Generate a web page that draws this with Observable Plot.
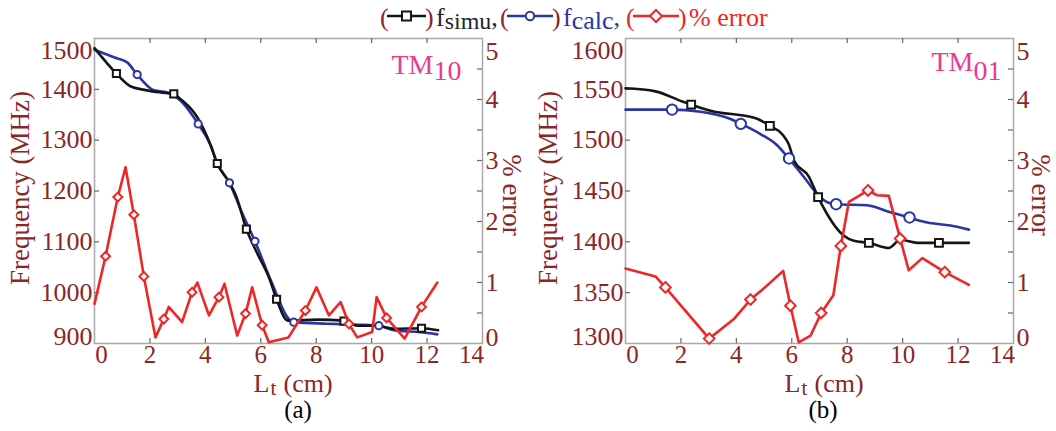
<!DOCTYPE html>
<html>
<head>
<meta charset="utf-8">
<script src="https://cdn.jsdelivr.net/npm/d3@7"></script>
<script src="https://cdn.jsdelivr.net/npm/@observablehq/plot@0.6"></script>
<style>
  body { margin: 0; background: #fff; }
  #root { position: relative; width: 1056px; height: 431px; overflow: hidden; background: #fff;
          font-family: "Liberation Serif", "Times New Roman", serif; }
  .panel { position: absolute; top: 30px; width: 528px; height: 370px; }
  .cap { position: absolute; top: 399px; width: 100px; text-align: center; font-size: 25px;
         line-height: 22px; color: #000; }
  #legend { position: absolute; left: 0; top: 0; }
</style>
</head>
<body>
<div id="root">
  <div id="legend"></div>
  <div class="panel" id="pa" style="left:0px"></div>
  <div class="panel" id="pb" style="left:528px"></div>
  <div class="cap" style="left:248px">(a)</div>
  <div class="cap" style="left:773px">(b)</div>
</div>
<script>
// ---------------- data ----------------
// Panel (a) TM10
const aSimuX = [0, 0.79, 1.30, 1.90, 2.38, 2.86, 3.10, 3.71, 4.19, 4.43, 4.87, 5.11, 5.48, 5.84, 6.33, 6.57, 6.98, 8.05, 9.00, 9.48, 10.2, 10.8, 11.8, 12.4];
const aSimuF = [1481, 1431, 1406, 1398, 1394, 1391, 1381, 1345, 1290, 1254, 1216, 1190, 1125, 1081, 1025, 987, 945, 947, 945, 935, 935, 929, 930, 926];
const aSimuMarkX = [0.79, 2.86, 4.43, 5.48, 6.57, 9.00, 11.8];
const aSimuMarkF = [1431, 1391, 1254, 1125, 987, 944, 930];

const aCalcX = [0, 0.70, 1.18, 1.54, 2.14, 2.62, 3.10, 3.74, 4.19, 4.43, 4.87, 5.30, 5.79, 6.41, 7.00, 7.19, 8.40, 9.50, 10.26, 10.80, 11.76, 12.37];
const aCalcF = [1478, 1463, 1453, 1429, 1398, 1394, 1378, 1332, 1290, 1254, 1216, 1160, 1101, 1018, 949, 942, 939, 937, 935, 926, 922, 918];
const aCalcMarkX = [1.54, 3.74, 4.87, 5.79, 7.19, 10.26];
const aCalcMarkF = [1429, 1332, 1216, 1101, 942, 935];

const aErrX = [0, 0.40, 0.84, 1.12, 1.42, 1.78, 2.20, 2.50, 2.68, 3.16, 3.52, 3.71, 4.13, 4.49, 4.69, 5.15, 5.45, 5.69, 6.05, 6.29, 7.00, 7.61, 8.01, 8.46, 8.88, 9.18, 9.48, 10.02, 10.18, 10.54, 11.19, 11.80, 12.37];
const aErrE = [0.65, 1.43, 2.40, 2.89, 2.11, 1.10, 0.10, 0.40, 0.60, 0.35, 0.84, 1.00, 0.46, 0.76, 0.98, 0.13, 0.49, 0.92, 0.30, 0.02, 0.10, 0.54, 0.92, 0.46, 0.68, 0.32, 0.10, 0.19, 0.76, 0.42, 0.08, 0.60, 1.00];
const aErrMarkX = [0.40, 0.84, 1.42, 1.78, 2.50, 3.52, 4.49, 5.45, 6.05, 7.61, 9.18, 10.54, 11.80];
const aErrMarkE = [1.43, 2.40, 2.11, 1.10, 0.40, 0.84, 0.76, 0.49, 0.30, 0.54, 0.32, 0.42, 0.60];

// Panel (b) TM01
const bSimuX = [0, 1.08, 2.05, 2.37, 3.07, 4.75, 5.21, 5.65, 5.89, 6.08, 6.62, 6.95, 7.88, 8.24, 8.78, 9.50, 9.92, 10.53, 11.31, 12.39];
const bSimuF = [1551, 1548, 1538, 1535, 1529, 1521, 1514, 1506, 1496, 1480, 1464, 1444, 1406, 1401, 1399, 1394, 1402, 1399, 1399, 1399];
const bSimuMarkX = [2.37, 5.21, 6.95, 8.78, 11.31];
const bSimuMarkF = [1535, 1514, 1444, 1399, 1399];

const bCalcX = [0, 1.66, 2.71, 3.67, 4.17, 4.87, 5.47, 5.89, 6.43, 6.92, 7.28, 7.64, 8.72, 9.56, 10.22, 10.89, 11.73, 12.39];
const bCalcF = [1530, 1530, 1528, 1522, 1516, 1506, 1495, 1482, 1464, 1447, 1439, 1437, 1436, 1429, 1424, 1419, 1416, 1412];
const bCalcMarkX = [1.68, 4.16, 5.90, 7.60, 10.25];
const bCalcMarkF = [1530, 1516, 1482, 1437, 1424];

const bErrX = [0, 1.08, 1.44, 3.02, 3.91, 4.51, 5.11, 5.69, 5.95, 6.25, 6.68, 7.06, 7.50, 7.77, 8.06, 8.75, 9.08, 9.50, 9.91, 10.22, 10.71, 11.52, 12.39];
const bErrE = [1.23, 1.10, 0.92, 0.08, 0.40, 0.72, 0.95, 1.19, 0.62, 0.02, 0.13, 0.50, 0.79, 1.60, 2.32, 2.51, 2.43, 2.42, 1.72, 1.20, 1.40, 1.17, 0.96];
const bErrMarkX = [1.44, 3.02, 4.51, 5.95, 7.06, 7.77, 8.75, 9.91, 11.52];
const bErrMarkE = [0.92, 0.08, 0.72, 0.62, 0.50, 1.60, 2.51, 1.72, 1.17];

// axes / ticks
const xDomain = [0, 14];
const xTickLabels = [0, 2, 4, 6, 8, 10, 12, 14];
const aFreqDomain = [900, 1500];
const aFreqLabels = [900, 1000, 1100, 1200, 1300, 1400, 1500];
const bFreqDomain = [1300, 1600];
const bFreqLabels = [1300, 1350, 1400, 1450, 1500, 1550, 1600];
const errDomain = [0, 5];
const errLabels = [0, 1, 2, 3, 4, 5];
const errMinorTicks = [0.5, 1, 1.5, 2, 2.5, 3, 3.5, 4, 4.5];

const FONT = '"Liberation Serif", "Times New Roman", serif';
const MAROON = "#8b2626";
const BLUE = "#2a35a4";
const RED = "#ef2626";
const BLACK = "#151515";
const PINK = "#ec3a8e";
const FRAME = "#a9a9a9";
const TICKC = "#666";

function pts(xs, ys, f = v => v) { return xs.map((x, i) => ({x, y: f(ys[i])})); }
const plain = d => String(d);

function makePanel(cfg) {
  const W = 528, H = 370, mt = 8, mb = 57;
  const fw = W - cfg.ml - cfg.mr, fh = H - mt - mb;
  const errY = d3.scaleLinear(errDomain, cfg.yDomain);
  const yl = cfg.yLabels;
  const yInner = yl.slice(1, -1);
  const xInner = xTickLabels.slice(1, -1);
  const tickOpts = {tickSize: 0, label: null, tickFormat: plain};
  const xOpts = {...tickOpts, anchor: "bottom", tickPadding: 1.5, fontSize: 25};
  const yOpts = {...tickOpts, anchor: "left", tickPadding: 2};
  const eOpts = {y: d => errY(d), text: plain, frameAnchor: "right", textAnchor: "start", dx: 3};
  return Plot.plot({
    width: W, height: H, marginTop: mt, marginBottom: mb, marginLeft: cfg.ml, marginRight: cfg.mr,
    x: {domain: xDomain, axis: null},
    y: {domain: cfg.yDomain, axis: null},
    style: {fontFamily: FONT, fontSize: "26px", color: MAROON, background: "transparent", overflow: "visible"},
    marks: [
      Plot.frame({stroke: FRAME, strokeWidth: 1.5}),
      // inward tick marks
      Plot.tickX(xInner, {x: d => d, stroke: TICKC, strokeWidth: 1.2, insetBottom: fh - 5}),
      Plot.tickX(xInner, {x: d => d, stroke: TICKC, strokeWidth: 1.2, insetTop: fh - 5}),
      Plot.tickY(yInner, {y: d => d, stroke: TICKC, strokeWidth: 1.2, insetRight: fw - 5}),
      Plot.tickY(errMinorTicks, {y: d => errY(d), stroke: TICKC, strokeWidth: 1.2, insetLeft: fw - 5}),
      // x tick labels
      Plot.axisX(xInner, xOpts),
      Plot.axisX([xTickLabels[0]], {...xOpts, dx: 7}),
      Plot.axisX([xTickLabels[xTickLabels.length - 1]], {...xOpts, dx: -11}),
      // left tick labels
      Plot.axisY(yInner, yOpts),
      Plot.axisY([yl[yl.length - 1]], {...yOpts, dy: 12}),
      Plot.axisY([yl[0]], {...yOpts, dy: -7}),
      // right tick labels (% error)
      Plot.text(errLabels.slice(1, -1), eOpts),
      Plot.text([errLabels[errLabels.length - 1]], {...eOpts, dy: 13}),
      Plot.text([errLabels[0]], {...eOpts, dy: -6}),
      // axis titles
      Plot.text(["Frequency (MHz)"], {text: d => d, frameAnchor: "left", rotate: -90, lineAnchor: "bottom", textAnchor: "middle", dx: cfg.ylabDx, dy: -3, fontSize: 27}),
      Plot.text(["% error"], {text: d => d, frameAnchor: "right", rotate: 90, lineAnchor: "bottom", textAnchor: "middle", dx: cfg.elabDx, dy: 4, fontSize: 27}),
      Plot.text(["L"], {text: d => d, frameAnchor: "bottom", textAnchor: "end", lineAnchor: "bottom", dx: -19, dy: 48, fontSize: 26}),
      Plot.text(["t"], {text: d => d, frameAnchor: "bottom", textAnchor: "start", lineAnchor: "bottom", dx: -18, dy: 51, fontSize: 21}),
      Plot.text(["(cm)"], {text: d => d, frameAnchor: "bottom", textAnchor: "start", lineAnchor: "bottom", dx: -5, dy: 48, fontSize: 26}),
      // mode label
      Plot.text(["TM"], {text: d => d, frameAnchor: "top-right", textAnchor: "end", lineAnchor: "bottom", dx: cfg.tmDx, dy: cfg.tmDy, fontSize: 28, fill: PINK}),
      Plot.text([cfg.mode], {text: d => d, frameAnchor: "top-right", textAnchor: "start", lineAnchor: "bottom", dx: cfg.tmDx, dy: 41, fontSize: 28, fill: PINK}),
      // data
      Plot.line(pts(cfg.calcX, cfg.calcF), {x: "x", y: "y", stroke: BLUE, strokeWidth: 2.6, curve: "monotone-x"}),
      Plot.line(pts(cfg.simuX, cfg.simuF), {x: "x", y: "y", stroke: BLACK, strokeWidth: 2.6, curve: "monotone-x"}),
      Plot.dot(pts(cfg.calcMX, cfg.calcMF), {x: "x", y: "y", r: cfg.rc, stroke: BLUE, fill: "white", strokeWidth: 2}),
      Plot.dot(pts(cfg.simuMX, cfg.simuMF), {x: "x", y: "y", symbol: "square", r: cfg.rs, stroke: BLACK, fill: "white", strokeWidth: 2}),
      Plot.line(pts(cfg.errX, cfg.errE, errY), {x: "x", y: "y", stroke: RED, strokeWidth: 2.6}),
      Plot.dot(pts(cfg.errMX, cfg.errME, errY), {x: "x", y: "y", symbol: "diamond2", r: cfg.rd, stroke: RED, fill: "white", strokeWidth: 2})
    ]
  });
}

document.getElementById("pa").appendChild(makePanel({
  ml: 94, mr: 46, yDomain: aFreqDomain, yLabels: aFreqLabels, mode: "10",
  ylabDx: -66, elabDx: 20, tmDx: -49, tmDy: 35, rc: 3.6, rs: 4, rd: 4,
  simuX: aSimuX, simuF: aSimuF, simuMX: aSimuMarkX, simuMF: aSimuMarkF,
  calcX: aCalcX, calcF: aCalcF, calcMX: aCalcMarkX, calcMF: aCalcMarkF,
  errX: aErrX, errE: aErrE, errMX: aErrMarkX, errME: aErrMarkE
}));
document.getElementById("pb").appendChild(makePanel({
  ml: 97, mr: 43, yDomain: bFreqDomain, yLabels: bFreqLabels, mode: "01",
  ylabDx: -69, elabDx: 18, tmDx: -40, tmDy: 32, rc: 5.2, rs: 4.4, rd: 4.8,
  simuX: bSimuX, simuF: bSimuF, simuMX: bSimuMarkX, simuMF: bSimuMarkF,
  calcX: bCalcX, calcF: bCalcF, calcMX: bCalcMarkX, calcMF: bCalcMarkF,
  errX: bErrX, errE: bErrE, errMX: bErrMarkX, errME: bErrMarkE
}));

// ---------------- legend ----------------
const legendItems = [
  {x: 380, w: 39, color: BLACK, paren: MAROON, symbol: "square", main: "f", sub: "simu", subSize: 24, tail: ",", textColor: "#1f2626"},
  {x: 500, w: 46, color: BLUE, paren: MAROON, symbol: "circle", main: "f", sub: "calc", subSize: 26, tail: ",", textColor: BLUE},
  {x: 626, w: 46, color: RED, paren: RED, symbol: "diamond", main: "% error", sub: "", subSize: 26, tail: "", textColor: RED}
];
const leg = d3.select("#legend").append("svg").attr("width", 1056).attr("height", 34)
  .style("font-family", FONT).style("font-size", "26px");
for (const it of legendItems) {
  const g = leg.append("g");
  const x0 = it.x;
  g.append("text").attr("x", x0).attr("y", 26).attr("fill", it.paren).text("(");
  const lx1 = x0 + 7, lx2 = lx1 + it.w, cy = 16, cx = (lx1 + lx2) / 2;
  g.append("line").attr("x1", lx1).attr("x2", lx2).attr("y1", cy).attr("y2", cy)
    .attr("stroke", it.color).attr("stroke-width", 2.6);
  if (it.symbol === "square") g.append("rect").attr("x", cx - 4.5).attr("y", cy - 4.5).attr("width", 9).attr("height", 9)
    .attr("fill", "white").attr("stroke", it.color).attr("stroke-width", 2);
  if (it.symbol === "circle") g.append("circle").attr("cx", cx).attr("cy", cy).attr("r", 4.2)
    .attr("fill", "white").attr("stroke", it.color).attr("stroke-width", 2);
  if (it.symbol === "diamond") g.append("path").attr("d", `M${cx},${cy - 6}L${cx + 6},${cy}L${cx},${cy + 6}L${cx - 6},${cy}Z`)
    .attr("fill", "white").attr("stroke", it.color).attr("stroke-width", 2);
  g.append("text").attr("x", lx2 - 1).attr("y", 26).attr("fill", it.paren).text(")");
  const t = g.append("text").attr("x", lx2 + 10).attr("y", 26).attr("fill", it.textColor);
  t.append("tspan").text(it.main);
  if (it.sub) t.append("tspan").attr("dy", 3).attr("font-size", it.subSize + "px").text(it.sub);
  if (it.tail) t.append("tspan").attr("dy", -3).attr("font-size", "26px").text(it.tail);
}
</script>
</body>
</html>
